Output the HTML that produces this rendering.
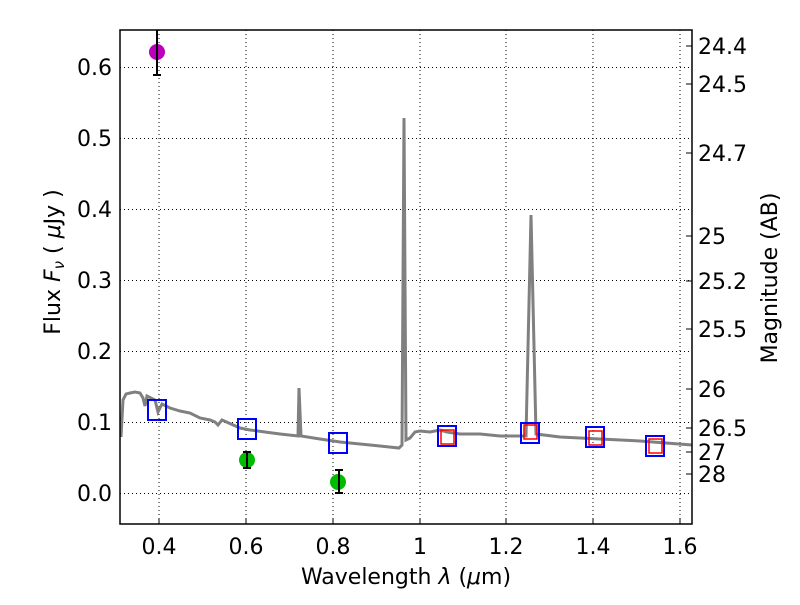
<!DOCTYPE html>
<html><head><style>body{margin:0;background:#fff}svg text{font-family:"DejaVu Sans","Liberation Sans",sans-serif}</style></head><body>
<svg width="800" height="600" xmlns="http://www.w3.org/2000/svg">
<rect width="800" height="600" fill="#fff"/>
<g stroke="#000" stroke-width="1" stroke-dasharray="1,3">
<line x1="159" y1="30" x2="159" y2="524"/><line x1="246" y1="30" x2="246" y2="524"/><line x1="333" y1="30" x2="333" y2="524"/><line x1="420" y1="30" x2="420" y2="524"/><line x1="506" y1="30" x2="506" y2="524"/><line x1="593" y1="30" x2="593" y2="524"/><line x1="680" y1="30" x2="680" y2="524"/>
<line x1="120" y1="493.5" x2="692" y2="493.5"/><line x1="120" y1="422.5" x2="692" y2="422.5"/><line x1="120" y1="351.5" x2="692" y2="351.5"/><line x1="120" y1="280.5" x2="692" y2="280.5"/><line x1="120" y1="209.5" x2="692" y2="209.5"/><line x1="120" y1="138.5" x2="692" y2="138.5"/><line x1="120" y1="67.5" x2="692" y2="67.5"/>
</g>
<polyline fill="none" stroke="#808080" stroke-width="3" points="121,437 123,400 126,394 130,393 135,392 140,393 143,398 145,406 147,396 155,400 158,412 162,404 170,408 180,411 190,413 200,418 210,420 215,422 218,425 222,420 240,428 250,430 265,432 280,434 298,436 299,388 301,436 320,439 340,442 360,444 380,446 399,448 402,445 404,118 406,440 410,438 415,432 420,431 430,432 440,430 447,432 460,434 480,434 500,436 520,436 526,436 531,215 536,434 560,437 600,439 640,441 692,445"/>
<g fill="none" stroke="#00f" stroke-width="2">
<rect x="148" y="400" width="18" height="20"/><rect x="238" y="419" width="18" height="20"/><rect x="329" y="433" width="18" height="20"/><rect x="438" y="426" width="18" height="20"/><rect x="521" y="423" width="18" height="20"/><rect x="586" y="427" width="18" height="20"/><rect x="646" y="436" width="18" height="20"/>
</g>
<g fill="none" stroke="#f00" stroke-width="1.5">
<rect x="441" y="430" width="13" height="14"/><rect x="524" y="425" width="13" height="14"/><rect x="589" y="431" width="13" height="14"/><rect x="649" y="439" width="13" height="14"/>
</g>
<circle cx="157" cy="52" r="8" fill="#b0b"/><circle cx="247" cy="460" r="8" fill="#0b0"/><circle cx="338" cy="482" r="8" fill="#0b0"/>
<g stroke="#000" stroke-width="2">
<line x1="157" y1="30" x2="157" y2="75"/><line x1="153" y1="75" x2="161" y2="75"/>
<line x1="247" y1="452" x2="247" y2="468"/><line x1="243" y1="452" x2="251" y2="452"/><line x1="243" y1="468" x2="251" y2="468"/>
<line x1="339" y1="470" x2="339" y2="493"/><line x1="335" y1="470" x2="343" y2="470"/><line x1="335" y1="493" x2="343" y2="493"/>
</g>
<rect x="120" y="30" width="572" height="494" fill="none" stroke="#000" stroke-width="1.5"/>
<g stroke="#000" stroke-width="1">
<line x1="159" y1="524" x2="159" y2="518"/><line x1="246" y1="524" x2="246" y2="518"/><line x1="333" y1="524" x2="333" y2="518"/><line x1="420" y1="524" x2="420" y2="518"/><line x1="506" y1="524" x2="506" y2="518"/><line x1="593" y1="524" x2="593" y2="518"/><line x1="680" y1="524" x2="680" y2="518"/>
<line x1="692" y1="46" x2="686" y2="46"/><line x1="692" y1="84" x2="686" y2="84"/><line x1="692" y1="153" x2="686" y2="153"/><line x1="692" y1="236" x2="686" y2="236"/><line x1="692" y1="281" x2="686" y2="281"/><line x1="692" y1="329" x2="686" y2="329"/><line x1="692" y1="389" x2="686" y2="389"/><line x1="692" y1="428" x2="686" y2="428"/><line x1="692" y1="452" x2="686" y2="452"/><line x1="692" y1="474" x2="686" y2="474"/>
</g>
<g font-size="22" text-anchor="middle">
<text x="159" y="554">0.4</text><text x="246" y="554">0.6</text><text x="333" y="554">0.8</text><text x="420" y="554">1</text><text x="506" y="554">1.2</text><text x="593" y="554">1.4</text><text x="680" y="554">1.6</text>
</g>
<g font-size="22" text-anchor="end">
<text x="112" y="501">0.0</text><text x="112" y="430">0.1</text><text x="112" y="359">0.2</text><text x="112" y="288">0.3</text><text x="112" y="217">0.4</text><text x="112" y="146">0.5</text><text x="112" y="75">0.6</text>
</g>
<g font-size="22">
<text x="698" y="54">24.4</text><text x="698" y="92">24.5</text><text x="698" y="161">24.7</text><text x="698" y="244">25</text><text x="698" y="289">25.2</text><text x="698" y="337">25.5</text><text x="698" y="397">26</text><text x="698" y="436">26.5</text><text x="698" y="460">27</text><text x="698" y="482">28</text>
</g>
<text x="406" y="584" font-size="22" text-anchor="middle">Wavelength  <tspan font-style="italic">λ</tspan> (<tspan font-style="italic">μ</tspan>m)</text>
<text transform="translate(60,262) rotate(-90)" font-size="22" text-anchor="middle">Flux  <tspan font-style="italic">F<tspan font-size="15" dy="4">ν</tspan></tspan><tspan dy="-4">  ( </tspan><tspan font-style="italic">μ</tspan>Jy )</text>
<text transform="translate(777,278) rotate(-90)" font-size="22" text-anchor="middle">Magnitude (AB)</text>
</svg>
</body></html>
